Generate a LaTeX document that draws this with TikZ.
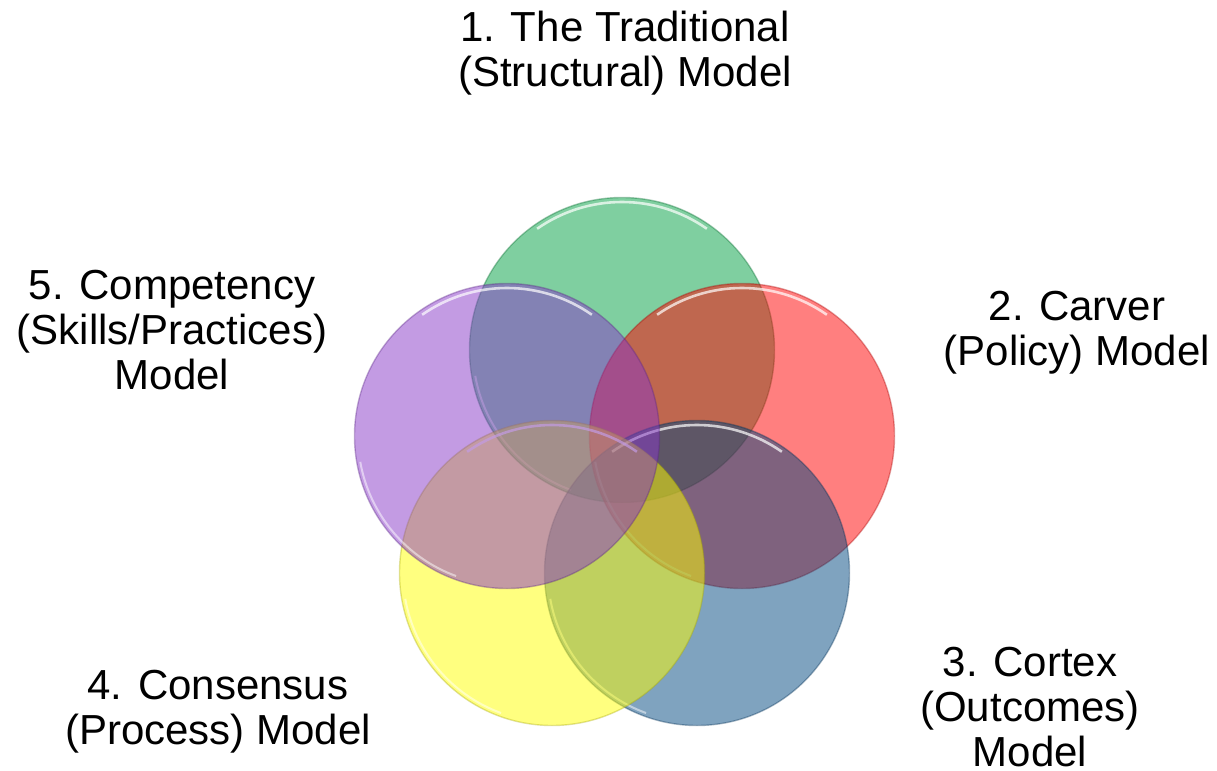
\documentclass[tikz,border=0pt]{standalone}
\usepackage{fontspec}
\setmainfont{Liberation Sans}
\usetikzlibrary{positioning}
\definecolor{grn}{RGB}{0,159,65}
\definecolor{rd}{RGB}{255,0,0}
\definecolor{blu}{RGB}{0,71,127}
\definecolor{ylw}{RGB}{255,255,0}
\definecolor{prp}{RGB}{135,55,200}
\newcommand{\lblfont}{\fontsize{21pt}{22.5pt}\selectfont}

\begin{document}
\begin{tikzpicture}[x=0.5pt,y=-0.5pt]
    \tikzset{ring/.style = {circle,minimum size=152.5pt,inner sep=0pt,
        fill=#1,fill opacity=0.5,draw=#1!65!black,draw opacity=0.35,line width=0.7pt,
        path picture={\draw[white,draw opacity=0.7,line width=1.3pt]
            (path picture bounding box.center) ++(55:74pt) arc (55:125:74pt);
          \draw[white,draw opacity=0.5,line width=1pt]
            (path picture bounding box.center) ++(190:74.5pt) arc (190:250:74.5pt);}}}
    \tikzset{label/.style = {align=center,inner sep=0pt,font=\lblfont}}
    \useasboundingbox (0,0) rectangle (1217,771);
    % circles
    \node[ring=grn] (traditional) at (622,350) {};
    \node[ring=rd]  (carver)      at (742,436) {};
    \node[ring=blu] (cortex)      at (697,573) {};
    \node[ring=ylw] (consensus)   at (552,573) {};
    \node[ring=prp] (competency)  at (507,436) {};
    % labels
    \node[label] (l1) at (625,53)   {1. The Traditional\\(Structural) Model};
    \node[label] (l2) at (1077,333) {2. Carver\\(Policy) Model};
    \node[label] (l3) at (1030,707) {3. Cortex\\(Outcomes)\\Model};
    \node[label] (l4) at (218,712)  {4. Consensus\\(Process) Model};
    \node[label] (l5) at (172,330)  {5. Competency\\(Skills/Practices)\\Model};
\end{tikzpicture}
\end{document}
